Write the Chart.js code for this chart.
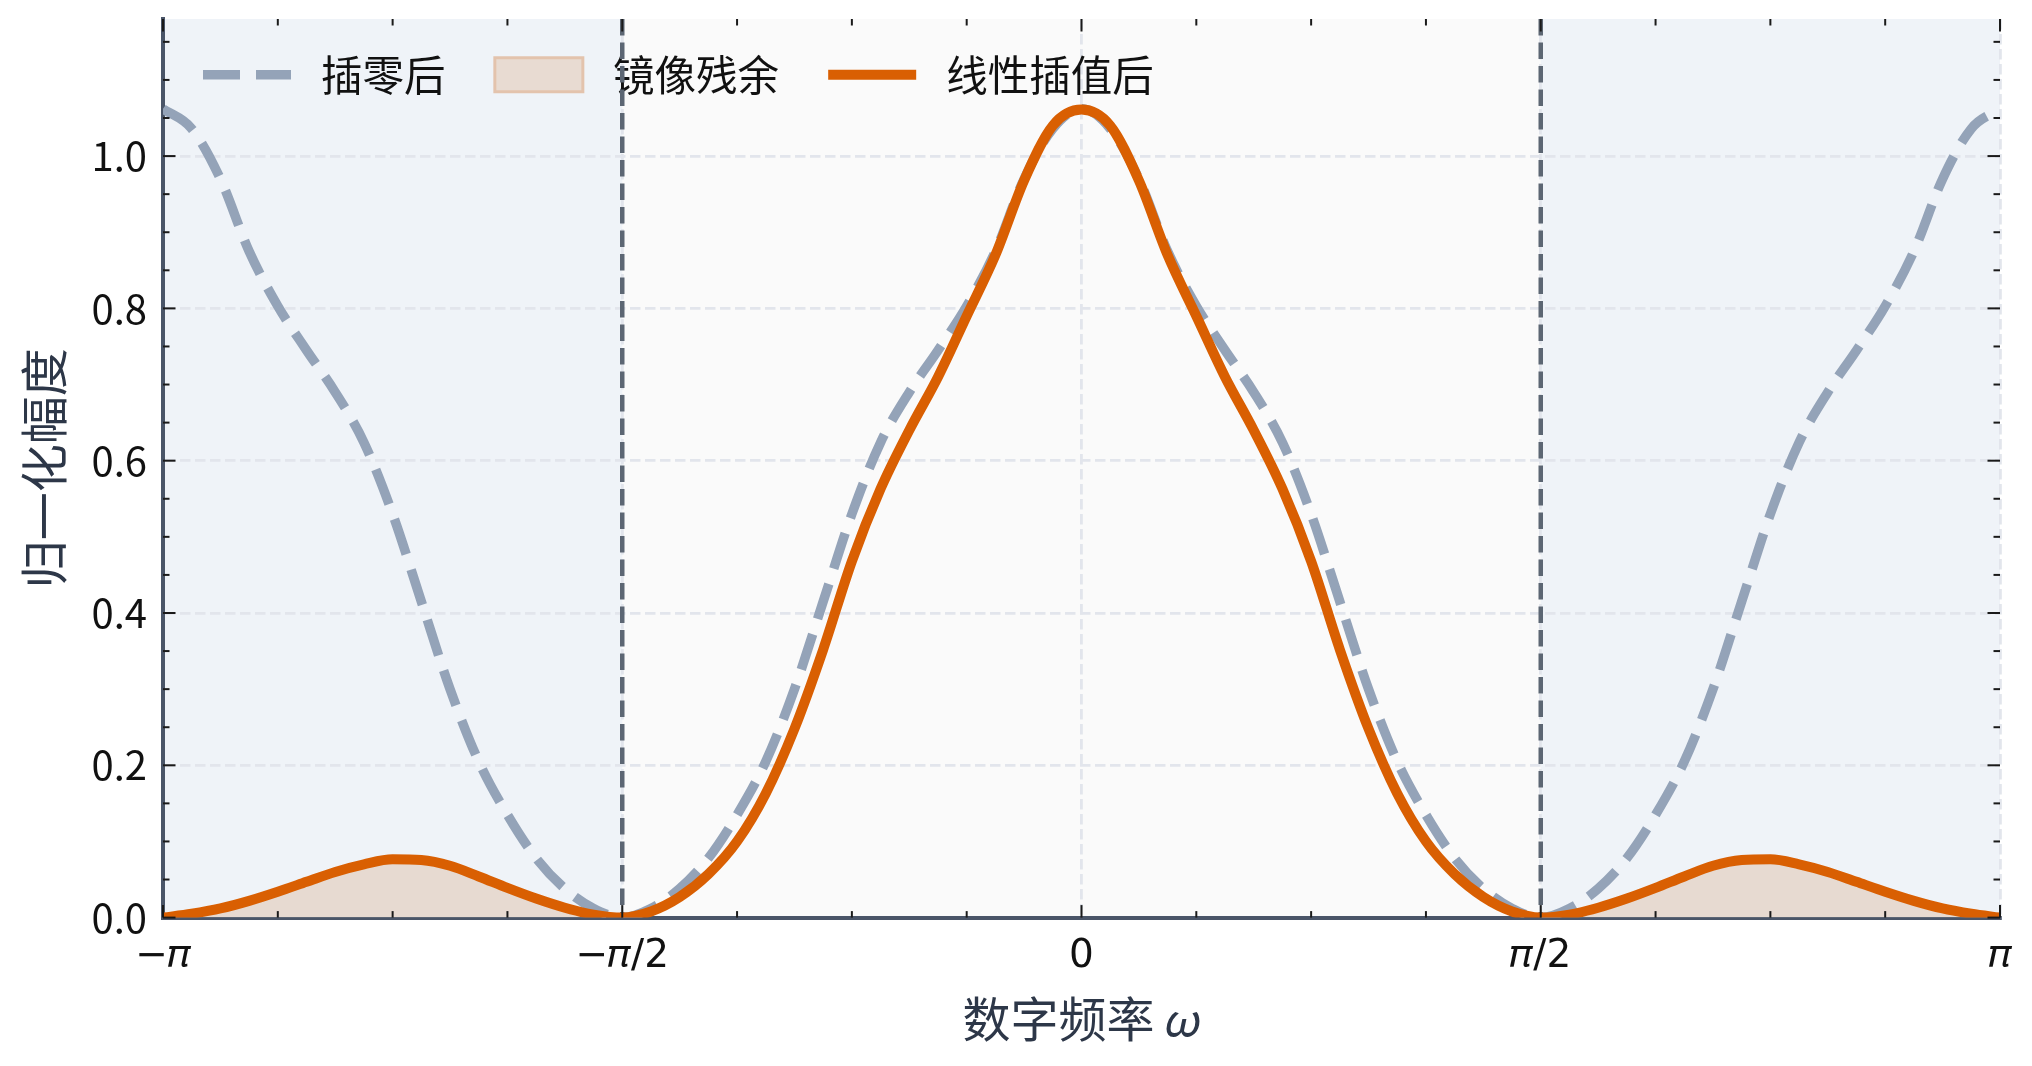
<!DOCTYPE html>
<html lang="zh-CN">
<head>
<meta charset="utf-8">
<title>插零与线性插值频谱</title>
<script src="https://cdn.jsdelivr.net/npm/chart.js@4.4.1/dist/chart.umd.min.js"></script>
<style>
  html, body { margin: 0; padding: 0; background: #ffffff; }
  #wrap { width: 2032px; height: 1066px; }
</style>
</head>
<body>
<div id="wrap"><canvas id="spec" width="2032" height="1066"></canvas></div>
<script>
const CJK  = "'Noto Sans CJK SC', 'Noto Sans', sans-serif";
const MATH = "'DejaVu Sans', 'Noto Sans CJK SC', sans-serif";

// ─── 数据：ω 以 π 为单位 ─────────────────────────────────────────
const omega = [
  -1, -0.96875, -0.9375, -0.90625, -0.875, -0.84375, -0.8125, -0.78125,
  -0.75, -0.71875, -0.6875, -0.65625, -0.625, -0.59375, -0.5625, -0.53125,
  -0.5, -0.46875, -0.4375, -0.40625, -0.375, -0.34375, -0.3125, -0.28125,
  -0.25, -0.21875, -0.1875, -0.15625, -0.125, -0.09375, -0.0625, -0.03125,
  0, 0.03125, 0.0625, 0.09375, 0.125, 0.15625, 0.1875, 0.21875,
  0.25, 0.28125, 0.3125, 0.34375, 0.375, 0.40625, 0.4375, 0.46875,
  0.5, 0.53125, 0.5625, 0.59375, 0.625, 0.65625, 0.6875, 0.71875,
  0.75, 0.78125, 0.8125, 0.84375, 0.875, 0.90625, 0.9375, 0.96875, 1
];

// 插零后（灰色虚线）
const zeroStuffed = [
  1.062, 1.036, 0.970, 0.875, 0.803, 0.745, 0.690, 0.624,
  0.530, 0.415, 0.300, 0.205, 0.135, 0.078, 0.038, 0.012,
  0.000, 0.012, 0.038, 0.078, 0.135, 0.205, 0.300, 0.415,
  0.530, 0.624, 0.690, 0.745, 0.803, 0.875, 0.970, 1.036,
  1.062, 1.036, 0.970, 0.875, 0.803, 0.745, 0.690, 0.624,
  0.530, 0.415, 0.300, 0.205, 0.135, 0.078, 0.038, 0.012,
  0.000, 0.012, 0.038, 0.078, 0.135, 0.205, 0.300, 0.415,
  0.530, 0.624, 0.690, 0.745, 0.803, 0.875, 0.970, 1.036, 1.062
];

// 线性插值后（橙色实线）
const linearInterp = [
  0.000, 0.005, 0.012, 0.022, 0.034, 0.047, 0.060, 0.070,
  0.0765, 0.0755, 0.068, 0.054, 0.039, 0.025, 0.013, 0.004,
  0.000, 0.008, 0.027, 0.057, 0.100, 0.163, 0.248, 0.352,
  0.468, 0.563, 0.640, 0.710, 0.790, 0.870, 0.968, 1.040,
  1.061, 1.040, 0.968, 0.870, 0.790, 0.710, 0.640, 0.563,
  0.468, 0.352, 0.248, 0.163, 0.100, 0.057, 0.027, 0.008,
  0.000, 0.004, 0.013, 0.025, 0.039, 0.054, 0.068, 0.0755,
  0.0765, 0.070, 0.060, 0.047, 0.034, 0.022, 0.012, 0.005, 0.000
];

const seriesLabels = ['插零后', '镜像残余', '线性插值后'];

const xMajorTicks = [-1, -0.5, 0, 0.5, 1];
const xTickLabels = ['−𝜋', '−𝜋/2', '0', '𝜋/2', '𝜋'];
const xMinorTicks = [-0.875, -0.75, -0.625, -0.375, -0.25, -0.125, 0.125, 0.25, 0.375, 0.625, 0.75, 0.875];
const yMajorTicks = [0, 0.2, 0.4, 0.6, 0.8, 1.0];
const yMinorTicks = [0.05, 0.1, 0.15, 0.25, 0.3, 0.35, 0.45, 0.5, 0.55, 0.65, 0.7, 0.75, 0.85, 0.9, 0.95, 1.05, 1.1, 1.15];

const imageBands = [[-1, -0.5], [0.5, 1]];  // |ω| > π/2 的镜像区
const cutoffs    = [-0.5, 0.5];

// 镜像残余 = 橙线在镜像区内的部分
const imageResidual = linearInterp.map((v, i) => Math.abs(omega[i]) >= 0.5 ? v : null);
const pts = (ys) => omega.map((x, i) => ({ x: x, y: ys[i] }));

const GRID  = '#e2e5ec';
const SPINE = '#4a5568';
const GRAY  = '#94a3b8';
const ORANGE = '#d95f02';

const legendStyles = [
  { pointStyle: 'line', strokeStyle: GRAY, fillStyle: GRAY, lineWidth: 9.5, lineDash: [37, 16] },
  { pointStyle: 'rect', strokeStyle: '#e3c3ad', fillStyle: '#e8dbd2', lineWidth: 3, lineDash: [] },
  { pointStyle: 'line', strokeStyle: ORANGE, fillStyle: ORANGE, lineWidth: 10, lineDash: [] }
];

// ─── 背景、截止线、内向刻度 ───────────────────────────────────────
const decor = {
  id: 'decor',
  beforeDraw(chart) {
    const { ctx, chartArea: a, scales: { x } } = chart;
    ctx.save();
    ctx.fillStyle = '#fafafa';
    ctx.fillRect(a.left, a.top, a.right - a.left, a.bottom - a.top);
    ctx.fillStyle = '#eff3f8';
    imageBands.forEach(([lo, hi]) => {
      const x0 = x.getPixelForValue(lo);
      const x1 = x.getPixelForValue(hi);
      ctx.fillRect(x0, a.top, x1 - x0, a.bottom - a.top);
    });
    ctx.restore();
  },
  beforeDatasetsDraw(chart) {
    const { ctx, chartArea: a, scales: { x } } = chart;
    ctx.save();
    ctx.strokeStyle = '#5c6673';
    ctx.lineWidth = 4.5;
    ctx.setLineDash([16.5, 7]);
    cutoffs.forEach(v => {
      const px = x.getPixelForValue(v);
      ctx.beginPath();
      ctx.moveTo(px, a.top);
      ctx.lineTo(px, a.bottom);
      ctx.stroke();
    });
    ctx.restore();
  },
  afterDatasetsDraw(chart) {
    const { ctx, chartArea: a, scales: { x, y } } = chart;
    const seg = (x0, y0, x1, y1) => { ctx.beginPath(); ctx.moveTo(x0, y0); ctx.lineTo(x1, y1); ctx.stroke(); };
    ctx.save();
    ctx.strokeStyle = '#1a1a1a';
    ctx.lineWidth = 2;
    x.ticks.forEach(t => {
      const px = x.getPixelForValue(t.value);
      const len = xMajorTicks.includes(t.value) ? 12.5 : 6.5;
      seg(px, a.bottom, px, a.bottom - len);
      seg(px, a.top, px, a.top + len);
    });
    y.ticks.forEach(t => {
      const py = y.getPixelForValue(t.value);
      const len = yMajorTicks.includes(t.value) ? 12.5 : 6.5;
      seg(a.left, py, a.left + len, py);
      seg(a.right, py, a.right - len, py);
    });
    ctx.restore();
  }
};

// 图例放进绘图区：布局时高度记 0，绘制前再恢复
const legendOverlay = {
  id: 'legendOverlay',
  beforeUpdate(chart) {
    const lg = chart.legend;
    if (!lg || lg._patched) return;
    const fit = lg.fit;
    lg.fit = function () {
      fit.call(this);
      this._fullHeight = this.height;
      this.height = 0;
    };
    lg._patched = true;
  },
  afterLayout(chart) {
    const lg = chart.legend;
    lg.top = chart.chartArea.top - 5;
    lg.height = lg._fullHeight;
    lg.bottom = lg.top + lg.height;
  }
};

new Chart(document.getElementById('spec'), {
  type: 'line',
  data: {
    datasets: [
      {
        label: seriesLabels[0],
        data: pts(zeroStuffed),
        borderColor: GRAY,
        borderWidth: 9.5,
        borderDash: [37, 16],
        pointRadius: 0,
        fill: false,
        cubicInterpolationMode: 'monotone',
        order: 1
      },
      {
        label: seriesLabels[1],
        data: pts(imageResidual),
        borderColor: 'rgba(0,0,0,0)',
        borderWidth: 0,
        backgroundColor: '#e7dad1',
        fill: 'origin',
        spanGaps: false,
        pointRadius: 0,
        cubicInterpolationMode: 'monotone',
        order: 2
      },
      {
        label: seriesLabels[2],
        data: pts(linearInterp),
        borderColor: ORANGE,
        borderWidth: 10,
        pointRadius: 0,
        fill: false,
        cubicInterpolationMode: 'monotone',
        order: 0
      }
    ]
  },
  options: {
    responsive: false,
    animation: false,
    devicePixelRatio: 1,
    events: [],
    layout: { padding: { left: 15, right: 32, top: 19, bottom: 10 } },
    plugins: {
      tooltip: { enabled: false },
      legend: {
        position: 'top',
        align: 'start',
        fullSize: false,
        labels: {
          usePointStyle: true,
          pointStyleWidth: 88,
          boxHeight: 34,
          padding: 40,
          color: '#111111',
          font: { family: CJK, size: 41.5 },
          generateLabels: () => legendStyles.map((s, i) => Object.assign({
            text: ' ' + seriesLabels[i] + ' ',
            datasetIndex: i,
            hidden: false,
            fontColor: '#111111'
          }, s))
        }
      }
    },
    scales: {
      x: {
        type: 'linear',
        min: -1,
        max: 1,
        afterBuildTicks: (s) => {
          s.ticks = xMajorTicks.concat(xMinorTicks).sort((a, b) => a - b).map(v => ({ value: v }));
        },
        afterFit: (s) => { s.height = 138.4; },
        ticks: {
          autoSkip: false,
          maxRotation: 0,
          minRotation: 0,
          padding: 16,
          color: '#111111',
          font: { family: MATH, size: 39 },
          callback: (v) => {
            const i = xMajorTicks.indexOf(v);
            return i >= 0 ? xTickLabels[i] : '';
          }
        },
        grid: {
          color: (c) => (c.tick && xMajorTicks.includes(c.tick.value)) ? GRID : 'rgba(0,0,0,0)',
          lineWidth: 2.8,
          drawTicks: false
        },
        border: { display: true, color: SPINE, width: 4, dash: [10.5, 4.5] },
        title: {
          display: true,
          text: '数字频率 𝜔',
          color: '#2d3748',
          font: { family: CJK, size: 48 },
          padding: { top: 0, bottom: 8 }
        }
      },
      y: {
        type: 'linear',
        min: 0,
        max: 1.18,
        afterBuildTicks: (s) => {
          s.ticks = yMajorTicks.concat(yMinorTicks).sort((a, b) => a - b).map(v => ({ value: v }));
        },
        afterFit: (s) => { s.width = 148; s.paddingTop = 0; },
        ticks: {
          autoSkip: false,
          padding: 16,
          color: '#111111',
          font: { family: CJK, size: 40 },
          callback: (v) => yMajorTicks.includes(v) ? v.toFixed(1) : ''
        },
        grid: {
          color: (c) => (c.tick && yMajorTicks.includes(c.tick.value)) ? GRID : 'rgba(0,0,0,0)',
          lineWidth: 2.8,
          drawTicks: false
        },
        border: { display: true, color: SPINE, width: 4, dash: [10.5, 4.5] },
        title: {
          display: true,
          text: '归一化幅度',
          color: '#2d3748',
          font: { family: CJK, size: 48 },
          padding: { top: 0, bottom: 0 }
        }
      }
    }
  },
  plugins: [decor, legendOverlay]
});
</script>
</body>
</html>
